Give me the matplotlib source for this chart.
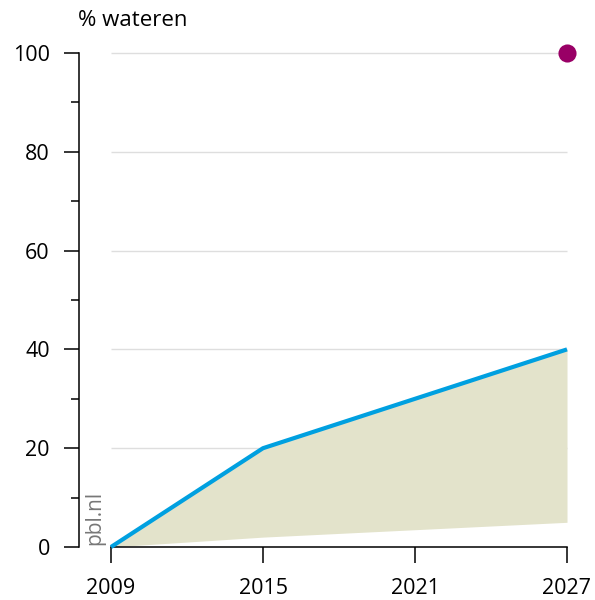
import matplotlib
matplotlib.use("Agg")
import matplotlib.pyplot as plt
from matplotlib.ticker import MultipleLocator

years = [2009, 2015, 2021, 2027]
upper = [0, 20, 30, 40]
lower = [0, 2, 3.5, 5]
target_year = [2027]
target_value = [100]
xticks = [2009, 2015, 2021, 2027]
yticks = [0, 20, 40, 60, 80, 100]

plt.rcParams['font.family'] = ['Open Sans', 'DejaVu Sans']

fig = plt.figure(figsize=(5.95, 6.0), dpi=100)
ax = fig.add_axes([79/595, 53/600, (585-79)/595, (547-40)/600])

ax.set_xlim(2009 - 32/25.333, 2027 + 18/25.333)
ax.set_ylim(0, 100 + 13/4.94)

for y in yticks[1:]:
    ax.hlines(y, 2009, 2027, color='#dedede', lw=1.0, zorder=0)

ax.fill_between(years, lower, upper, color='#e3e3cb', lw=0, zorder=1)
ax.plot(years, upper, color='#00a0e0', lw=3.0, solid_capstyle='butt', zorder=3, clip_on=False)
ax.scatter(target_year, target_value, s=170, color='#990066', zorder=4, clip_on=False, lw=0)

for s in ['top', 'right']:
    ax.spines[s].set_visible(False)
ax.spines['left'].set_bounds(0, 100)
ax.spines['bottom'].set_bounds(2009, 2027)
ax.spines['left'].set_linewidth(1.1)
ax.spines['bottom'].set_linewidth(1.1)

ax.set_yticks(yticks)
ax.yaxis.set_minor_locator(MultipleLocator(10))
ax.set_xticks(xticks)
ax.tick_params(axis='y', which='major', length=11, width=1.1, pad=10, labelsize=15.5)
ax.tick_params(axis='y', which='minor', length=6, width=1.1)
ax.tick_params(axis='x', which='major', length=11.5, width=1.1, pad=11, labelsize=15.5)

fig.text(78/595, 1 - 21/600, '% wateren', fontsize=16, va='center', ha='left')
ax.text(2009 - 0.65, 0.5, 'pbl.nl', rotation=90, fontsize=15, color='#777777',
        ha='center', va='bottom')

fig.savefig('out.png', dpi=100)
